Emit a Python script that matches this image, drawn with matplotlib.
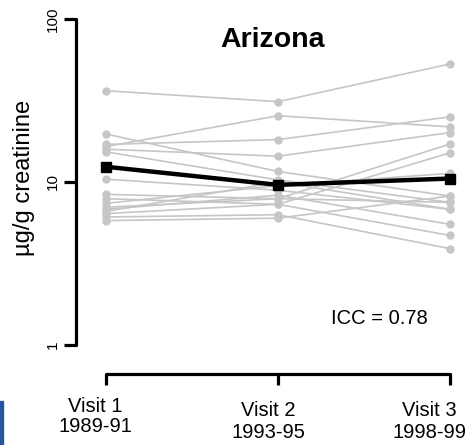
import matplotlib
matplotlib.use("Agg")
import matplotlib.pyplot as plt
from matplotlib.patches import Rectangle

plt.rcParams["font.family"] = ["Liberation Sans", "DejaVu Sans"]

visits = [1, 2, 3]
visit_names = ["Visit 1", "Visit 2", "Visit 3"]
visit_years = ["1989-91", "1993-95", "1998-99"]

# individual subjects (ug/g creatinine), one row per person
subjects = [
    [36.3, 31.1, 53.0],
    [16.5, 25.5, 21.8],
    [17.0, 18.2, 25.1],
    [15.9, 14.4, 20.1],
    [19.7, 11.6, 8.2],
    [15.3, 10.3, 7.5],
    [10.4, 8.9, 6.8],
    [8.4, 7.9, 17.1],
    [7.9, 7.3, 15.1],
    [7.4, 9.5, 11.3],
    [6.8, 8.3, 5.5],
    [6.4, 7.3, 4.7],
    [6.1, 6.3, 3.9],
    [5.8, 6.0, 8.2],
    [6.6, 10.0, 6.8],
    [7.0, 7.9, 7.5],
]
mean_vals = [12.4, 9.6, 10.5]
y_ticks = [1, 10, 100]

W, H = 473, 445
fig = plt.figure(figsize=(W / 100, H / 100), dpi=100)

# axes box in pixels: left spine at x=76, bottom spine at y=374
left, bottom, right, top = 76, 374, 462, 15
ax = fig.add_axes([left / W, 1 - bottom / H, (right - left) / W, (bottom - top) / H])

for s in subjects:
    ax.plot(visits, s, color="#c6c6c6", lw=1.2, marker="o", ms=5,
            mec="#c6c6c6", mfc="#c6c6c6", zorder=2)
ax.plot(visits, mean_vals, color="black", lw=3.2, marker="s", ms=6.5, zorder=3)

ax.set_yscale("log")
# x: 1 -> 106px, 3 -> 450px  (172 px per visit)
ppu = 172.0
ax.set_xlim(1 - (106 - left) / ppu, 3 + (right - 450) / ppu)
# y: 1 -> 345px, 10 -> 182px (163 px per decade)
ppd = 163.0
ax.set_ylim(10 ** (-(bottom - 345) / ppd), 10 ** (2 + (19 - top) / ppd))

for side in ["top", "right"]:
    ax.spines[side].set_visible(False)
for side in ["left", "bottom"]:
    ax.spines[side].set_linewidth(2.3)
    ax.spines[side].set_capstyle("round")
ax.spines["left"].set_bounds(1, 100)
ax.spines["bottom"].set_bounds(1, 3)

ax.set_yticks(y_ticks)
ax.set_yticklabels([str(t) for t in y_ticks], rotation=90, va="center", fontsize=11)
ax.minorticks_off()
ax.tick_params(axis="y", length=8.5, width=2.3, pad=3)
ax.set_xticks(visits)
ax.set_xticklabels([])
ax.tick_params(axis="x", length=8, width=2.3)

# visit labels (slightly offset left of the ticks, as in the original)
label_x = [95, 268, 429]
label_y = [(406, 426), (410, 433), (410, 433)]
for name, yrs, lx, (y1, y2) in zip(visit_names, visit_years, label_x, label_y):
    fig.text(lx / W, 1 - y1 / H, name, fontsize=14.5, ha="center", va="center")
    fig.text(lx / W, 1 - y2 / H, yrs, fontsize=14.5, ha="center", va="center")

fig.text(24 / W, 1 - 178 / H, "\u00b5g/g creatinine", fontsize=17, rotation=90,
         ha="center", va="center")

fig.text(273 / W, 1 - 40 / H, "Arizona", fontsize=20.5, fontweight="bold",
         ha="center", va="center")
fig.text(379 / W, 1 - 318 / H, "ICC = 0.78", fontsize=14.5, ha="center", va="center")

fig.patches.append(Rectangle((0, 0), 2.5 / W, (H - 401) / H, transform=fig.transFigure,
                             color="#2457a0", zorder=5))

fig.savefig("out.png", dpi=100)
